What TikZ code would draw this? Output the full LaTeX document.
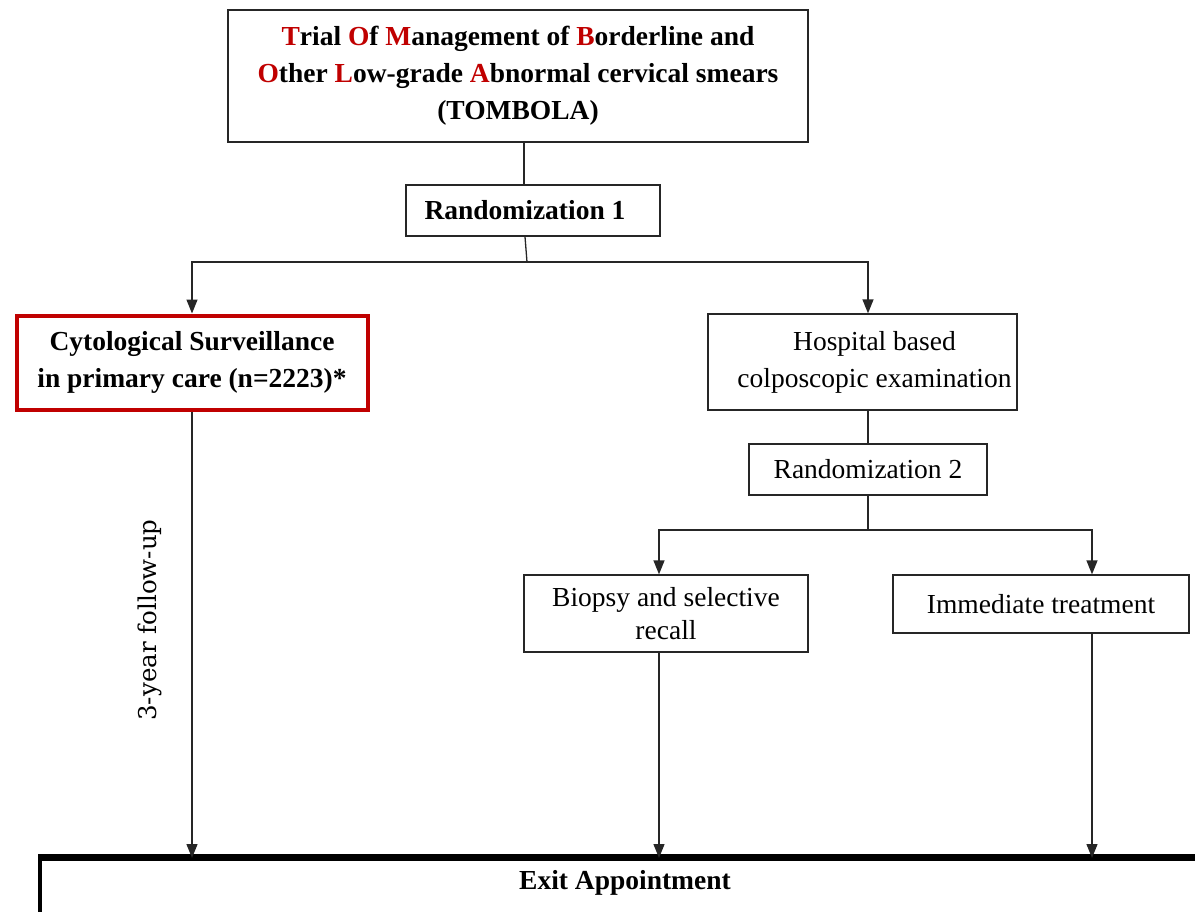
\documentclass[tikz,border=0pt]{standalone}
\usepackage{fontspec}
\setmainfont{Liberation Serif}
\newfontfamily\sidefont{DejaVu Serif}
\usetikzlibrary{arrows.meta}
\definecolor{tomred}{HTML}{C00000}
\newcommand{\rl}[1]{\textcolor{tomred}{#1}}
\begin{document}
\begin{tikzpicture}[x=1pt,y=-1pt,
  every node/.style={inner sep=0pt},
  box/.style={draw=black!85,line width=1.3pt,rectangle,align=center,
    font=\fontsize{27.5}{37}\selectfont},
  boldbox/.style={box,font=\fontsize{27.5}{37}\selectfont\bfseries},
  redbox/.style={boldbox,draw=tomred,line width=4pt},
  link/.style={draw=black!85,line width=1.3pt},
  arr/.style={link,-{Triangle[length=14pt,width=11pt]}}]
\useasboundingbox (0,0) rectangle (1195,911);

% boxes
\node[boldbox,minimum width=580pt,minimum height=132pt] (top) at (518,76)
  {\rl{T}rial \rl{O}f \rl{M}anagement of \rl{B}orderline and\\
   \rl{O}ther \rl{L}ow-grade \rl{A}bnormal cervical smears\\
   (TOMBOLA)};
\node[boldbox,minimum width=254pt,minimum height=51pt] (rand1) at (533,210.5)
  {\hspace*{-16pt}Randomization 1};
\node[redbox,minimum width=351pt,minimum height=94pt] (cyto) at (192,362.5)
  {Cytological Surveillance\\ in primary care (n=2223)*};
\node[box,minimum width=309pt,minimum height=96pt] (hosp) at (862.5,362)
  {\hspace*{24pt}Hospital based\\ \hspace*{24pt}colposcopic examination};
\node[box,minimum width=238pt,minimum height=51pt] (rand2) at (868,469.5)
  {Randomization 2};
\node[box,minimum width=284pt,minimum height=77pt,
  font=\fontsize{27.5}{33}\selectfont] (biopsy) at (666,613.5)
  {Biopsy and selective\\ recall};
\node[box,minimum width=296pt,minimum height=58pt] (imm) at (1041,604)
  {Immediate treatment};
\node[draw=black,line width=3.5pt,rectangle,minimum width=1190pt,
  minimum height=120pt,anchor=north west] (exit) at (38,857) {};
\draw[line width=5.5pt] (exit.north west) -- (exit.north east);
\node[font=\fontsize{27.5}{37}\selectfont\bfseries] (exittext) at (625,883)
  {Exit Appointment};

% side label
\node[rotate=90,font=\sidefont\fontsize{24.5}{28}\selectfont] (fu) at (150,620)
  {3-year follow-up};

% junction points and drop lines
\coordinate (j1) at (527,262);
\coordinate (j2) at (868,530);
\coordinate (xt) at (524,0);
\coordinate (xb) at (659,0);
\coordinate (xi) at (1092,0);

% connectors
\draw[link] (top.south -| xt) -- (rand1.north -| xt);
\draw[link] ([xshift=-8pt]rand1.south) -- (j1);
\draw[arr] (j1) -| (cyto.north);
\draw[arr] (j1) -| (hosp.north -| rand2);
\draw[link] (hosp.south -| rand2) -- (rand2.north);
\draw[link] (rand2.south) -- (j2);
\draw[arr] (j2) -| (biopsy.north -| xb);
\draw[arr] (j2) -| (imm.north -| xi);
\draw[arr] (cyto.south) -- ([yshift=-1pt]exit.north -| cyto);
\draw[arr] (biopsy.south -| xb) -- ([yshift=-1pt]exit.north -| xb);
\draw[arr] (imm.south -| xi) -- ([yshift=-1pt]exit.north -| xi);
\end{tikzpicture}
\end{document}
